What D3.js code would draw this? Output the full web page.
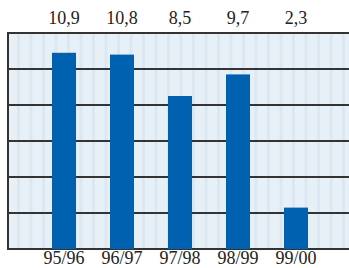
<!DOCTYPE html>
<html><head><meta charset="utf-8">
<script src="https://cdn.jsdelivr.net/npm/d3@7"></script>
<style>body{margin:0;background:#fff}svg{display:block}</style>
</head><body>
<script>
const categories = ["95/96","96/97","97/98","98/99","99/00"];
const values = [10.9, 10.8, 8.5, 9.7, 2.3];
const valueLabels = ["10,9","10,8","8,5","9,7","2,3"];
const gridTicks = [0, 2, 4, 6, 8, 10, 12];

(function () {
const W = 349, H = 268;
const pLeft = 8, pRight = 349, pTop = 33, pBottom = 249;

const svg = d3.select("body").append("svg").attr("width", W).attr("height", H);

const x = d3.scaleBand().domain(categories).range([35, 325]).paddingInner(0.586).paddingOuter(0.293);
const y = d3.scaleLinear().domain([0, 12]).range([pBottom, pTop]);

// background
svg.append("rect").attr("x", pLeft).attr("y", pTop).attr("width", pRight - pLeft).attr("height", pBottom - pTop).attr("fill", "#e7f0f7");
// stripes
const stripes = d3.range(pLeft + 9, pRight, 12.5);
svg.append("g").selectAll("rect").data(stripes).join("rect")
  .attr("x", d => d).attr("y", pTop).attr("width", 3).attr("height", pBottom - pTop)
  .attr("fill", "#dce8f1");

// gridlines
svg.append("g").selectAll("line").data(gridTicks).join("line")
  .attr("x1", pLeft).attr("x2", pRight)
  .attr("y1", d => y(d)).attr("y2", d => y(d))
  .attr("stroke", "#333").attr("stroke-width", 2);

// left border
svg.append("line").attr("x1", pLeft).attr("x2", pLeft).attr("y1", pTop - 1).attr("y2", pBottom + 1)
  .attr("stroke", "#333").attr("stroke-width", 2);

// bars
svg.append("g").selectAll("rect").data(values).join("rect")
  .attr("x", (d, i) => x(categories[i]))
  .attr("width", x.bandwidth())
  .attr("y", d => y(d))
  .attr("height", d => y(0) - y(d))
  .attr("fill", "#0061b1");

// top value labels
svg.append("g").selectAll("text").data(valueLabels).join("text")
  .attr("x", (d, i) => x(categories[i]) + x.bandwidth() / 2)
  .attr("y", 24)
  .attr("text-anchor", "middle")
  .attr("font-family", "Liberation Serif, Times New Roman, serif")
  .attr("font-size", 18).attr("fill", "#222")
  .text(d => d);

// bottom category labels
svg.append("g").selectAll("text").data(categories).join("text")
  .attr("x", d => x(d) + x.bandwidth() / 2)
  .attr("y", 264)
  .attr("text-anchor", "middle")
  .attr("font-family", "Liberation Serif, Times New Roman, serif")
  .attr("font-size", 18).attr("fill", "#222")
  .text(d => d);
})();
</script>
</body></html>
